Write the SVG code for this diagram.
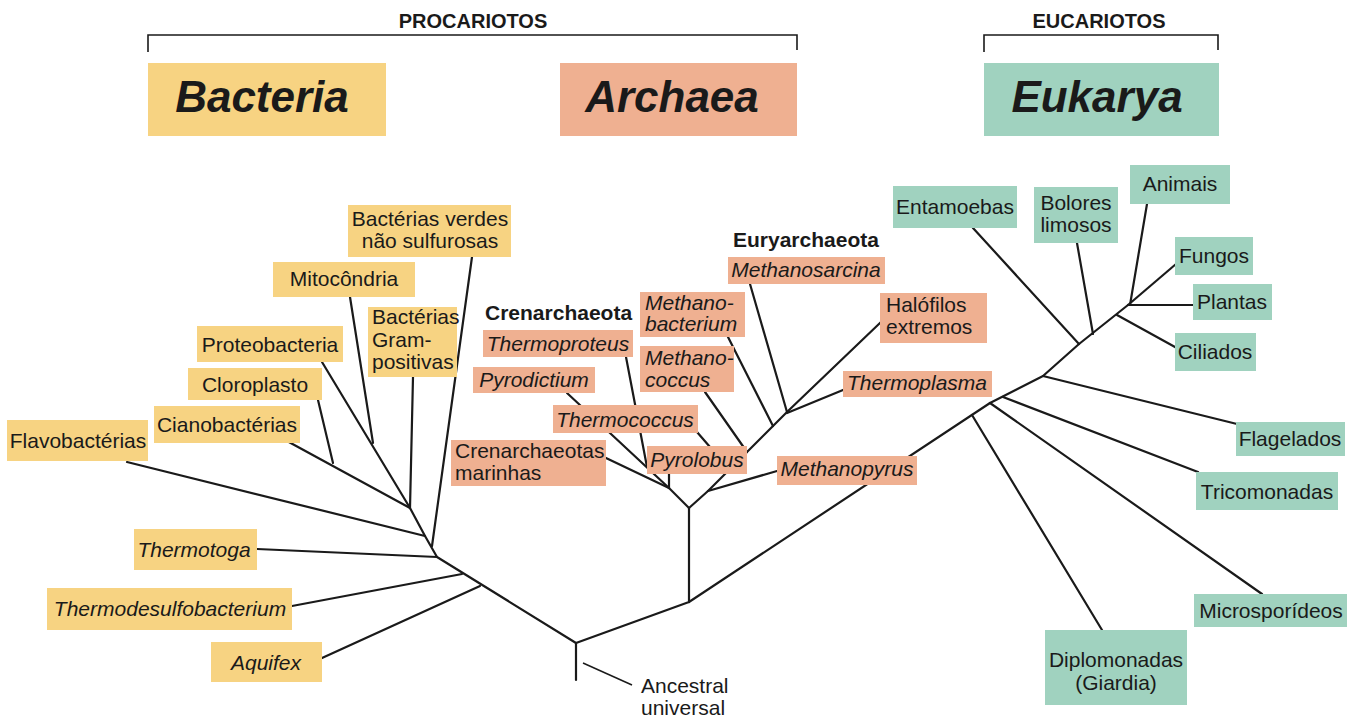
<svg xmlns="http://www.w3.org/2000/svg" width="1366" height="720" viewBox="0 0 1366 720">
<style>
text{font-family:"Liberation Sans",Arial,Helvetica,sans-serif;fill:#1a1a1a;font-size:21px}
.it{font-style:italic}
.b{font-weight:bold}
.big{font-size:44px;font-weight:bold;font-style:italic;text-anchor:middle}
.hd{font-size:20px;font-weight:bold;text-anchor:middle}
.m{text-anchor:middle}
.yb{fill:#f7d382}
.ab{fill:#efb091}
.eb{fill:#a0d2bf}
.ln{fill:none;stroke:#1a1a1a;stroke-width:2.2;stroke-linejoin:round;stroke-linecap:round}
.br{fill:none;stroke:#1a1a1a;stroke-width:1.6}
.ld{fill:none;stroke:#1a1a1a;stroke-width:1.5}
</style>
<rect width="1366" height="720" fill="#ffffff"/>

<g id="connectors">
<path class="br" d="M148,52 L148,35 L797,35 L797,50"/>
<path class="br" d="M984,52 L984,35 L1218,35 L1218,50"/>
<path class="ln" d="M576,643 L576,680"/>
<path class="ld" d="M583,663 L632,685"/>
<path class="ln" d="M576,643 L437,557 L425,536 L410,508"/>
<path class="ln" d="M322,658 L480,586"/>
<path class="ln" d="M292,606 L462,574"/>
<path class="ln" d="M257,549 L437,557"/>
<path class="ln" d="M127,462 L425,536"/>
<path class="ln" d="M287,441 L410,508"/>
<path class="ln" d="M318,400 L333,463"/>
<path class="ln" d="M322,362 L410,508"/>
<path class="ln" d="M350,297 L373,443"/>
<path class="ln" d="M413,377 L410,508"/>
<path class="ln" d="M472,257 L432,546"/>
<path class="ln" d="M576,643 L689,602 L689,508"/>
<path class="ln" d="M689,508 L669,488"/>
<path class="ln" d="M669,473 L669,488"/>
<path class="ln" d="M606,458 L669,488"/>
<path class="ln" d="M567,393 L669,488"/>
<path class="ln" d="M626,357 L647,467"/>
<path class="ln" d="M697,432 L729,469"/>
<path class="ln" d="M689,508 L708,491 L787,412"/>
<path class="ln" d="M708,491 L777,471"/>
<path class="ln" d="M705,392 L747,452"/>
<path class="ln" d="M728,337 L773,426"/>
<path class="ln" d="M750,284 L787,412"/>
<path class="ln" d="M787,412 L881,322"/>
<path class="ln" d="M787,413 L843,390"/>
<path class="ln" d="M689,602 L990,403 L1043,376 L1079,344 L1128,305"/>
<path class="ln" d="M972,415 L1102,630"/>
<path class="ln" d="M990,403 L1262,594"/>
<path class="ln" d="M1003,397 L1198,472"/>
<path class="ln" d="M1043,376 L1237,424"/>
<path class="ln" d="M973,228 L1079,344"/>
<path class="ln" d="M1077,243 L1093,334"/>
<path class="ln" d="M1147,204 L1130,305"/>
<path class="ln" d="M1176,264 L1128,305"/>
<path class="ln" d="M1128,305 L1193,305"/>
<path class="ln" d="M1117,315 L1175,347"/>
</g>

<g id="procariotos"><text class="hd" x="473" y="28">PROCARIOTOS</text></g>
<g id="eucariotos"><text class="hd" x="1099" y="28">EUCARIOTOS</text></g>

<g id="bacteria"><rect class="yb" x="148" y="63" width="238" height="73"/><text class="big" x="262" y="112">Bacteria</text></g>
<g id="archaea"><rect class="ab" x="560" y="63" width="237" height="73"/><text class="big" x="672" y="112">Archaea</text></g>
<g id="eukarya"><rect class="eb" x="984" y="63" width="235" height="73"/><text class="big" x="1097" y="112">Eukarya</text></g>

<g id="verdes"><rect class="yb" x="348" y="205" width="163" height="52"/><text class="m" x="430" y="226">Bactérias verdes</text><text class="m" x="430" y="248">não sulfurosas</text></g>
<g id="mitocondria"><rect class="yb" x="273" y="262" width="142" height="35"/><text class="m" x="344" y="286">Mitocôndria</text></g>
<g id="gram"><rect class="yb" x="368" y="307" width="89" height="70"/><text x="372" y="324">Bactérias</text><text x="372" y="347">Gram-</text><text x="372" y="369">positivas</text></g>
<g id="proteobacteria"><rect class="yb" x="197" y="326" width="146" height="36"/><text class="m" x="270" y="352">Proteobacteria</text></g>
<g id="cloroplasto"><rect class="yb" x="188" y="368" width="134" height="32"/><text class="m" x="255" y="392">Cloroplasto</text></g>
<g id="cianobacterias"><rect class="yb" x="154" y="406" width="146" height="37"/><text class="m" x="227" y="432">Cianobactérias</text></g>
<g id="flavobacterias"><rect class="yb" x="7" y="420" width="141" height="41"/><text class="m" x="78" y="448">Flavobactérias</text></g>
<g id="thermotoga"><rect class="yb" x="134" y="529" width="123" height="41"/><text class="m it" x="194" y="557">Thermotoga</text></g>
<g id="thermodesulfobacterium"><rect class="yb" x="47" y="588" width="245" height="42"/><text class="m it" x="170" y="616">Thermodesulfobacterium</text></g>
<g id="aquifex"><rect class="yb" x="211" y="642" width="111" height="40"/><text class="m it" x="266" y="670">Aquifex</text></g>

<g id="crenarchaeota"><text class="b" x="485" y="320">Crenarchaeota</text></g>
<g id="thermoproteus"><rect class="ab" x="483" y="330" width="150" height="27"/><text class="m it" x="558" y="351">Thermoproteus</text></g>
<g id="pyrodictium"><rect class="ab" x="473" y="367" width="122" height="26"/><text class="m it" x="534" y="387">Pyrodictium</text></g>
<g id="thermococcus"><rect class="ab" x="553" y="405" width="145" height="28"/><text class="m it" x="625" y="427">Thermococcus</text></g>
<g id="marinhas"><rect class="ab" x="451" y="440" width="155" height="46"/><text x="455" y="458">Crenarchaeotas</text><text x="455" y="480">marinhas</text></g>
<g id="pyrolobus"><rect class="ab" x="647" y="446" width="100" height="28"/><text class="m it" x="697" y="467">Pyrolobus</text></g>
<g id="methanobacterium"><rect class="ab" x="640" y="292" width="105" height="45"/><text class="it" x="645" y="310">Methano-</text><text class="it" x="645" y="331">bacterium</text></g>
<g id="methanococcus"><rect class="ab" x="640" y="346" width="94" height="46"/><text class="it" x="645" y="365">Methano-</text><text class="it" x="645" y="387">coccus</text></g>
<g id="euryarchaeota"><text class="b" x="733" y="247">Euryarchaeota</text></g>
<g id="methanosarcina"><rect class="ab" x="728" y="257" width="157" height="27"/><text class="m it" x="806" y="277">Methanosarcina</text></g>
<g id="halofilos"><rect class="ab" x="880" y="293" width="107" height="50"/><text x="886" y="312">Halófilos</text><text x="886" y="334">extremos</text></g>
<g id="thermoplasma"><rect class="ab" x="843" y="371" width="149" height="26"/><text class="m it" x="917" y="390">Thermoplasma</text></g>
<g id="methanopyrus"><rect class="ab" x="777" y="456" width="140" height="29"/><text class="m it" x="847" y="476">Methanopyrus</text></g>

<g id="animais"><rect class="eb" x="1130" y="165" width="100" height="39"/><text class="m" x="1180" y="191">Animais</text></g>
<g id="entamoebas"><rect class="eb" x="893" y="186" width="124" height="42"/><text class="m" x="955" y="214">Entamoebas</text></g>
<g id="bolores"><rect class="eb" x="1034" y="187" width="84" height="56"/><text class="m" x="1076" y="210">Bolores</text><text class="m" x="1076" y="232">limosos</text></g>
<g id="fungos"><rect class="eb" x="1175" y="237" width="78" height="38"/><text class="m" x="1214" y="263">Fungos</text></g>
<g id="plantas"><rect class="eb" x="1193" y="284" width="79" height="36"/><text class="m" x="1232" y="309">Plantas</text></g>
<g id="ciliados"><rect class="eb" x="1175" y="333" width="81" height="38"/><text class="m" x="1215" y="359">Ciliados</text></g>
<g id="flagelados"><rect class="eb" x="1236" y="422" width="109" height="34"/><text class="m" x="1290" y="446">Flagelados</text></g>
<g id="tricomonadas"><rect class="eb" x="1196" y="472" width="142" height="38"/><text class="m" x="1267" y="499">Tricomonadas</text></g>
<g id="microsporideos"><rect class="eb" x="1194" y="594" width="153" height="33"/><text class="m" x="1271" y="618">Microsporídeos</text></g>
<g id="diplomonadas"><rect class="eb" x="1045" y="630" width="142" height="75"/><text class="m" x="1116" y="667">Diplomonadas</text><text class="m" x="1116" y="690">(Giardia)</text></g>

<g id="ancestral"><text x="641" y="693">Ancestral</text><text x="641" y="715">universal</text></g>
</svg>
